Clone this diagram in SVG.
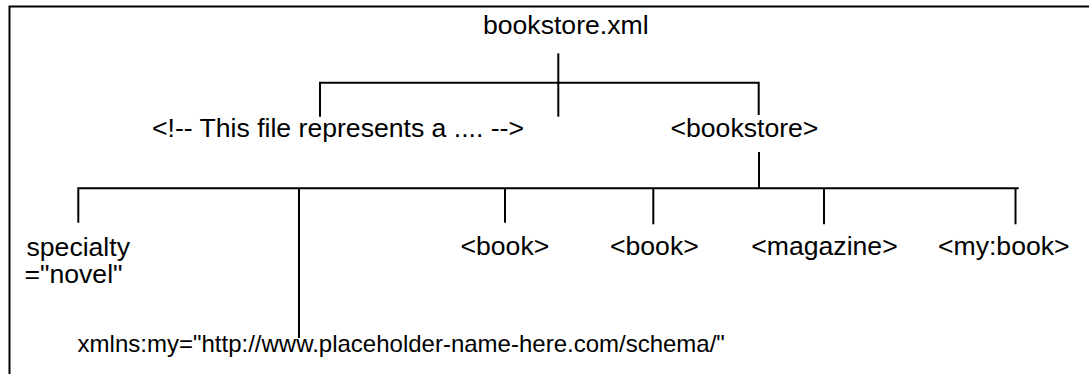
<svg xmlns="http://www.w3.org/2000/svg" width="1089" height="374" viewBox="0 0 1089 374">
<style>
.t{font-family:"Liberation Sans",Arial,sans-serif;font-size:26.6px;fill:#000}
.s{font-size:24px}
.c{stroke:#000;stroke-width:2;fill:none}
</style>
<rect x="0" y="0" width="1089" height="374" fill="#fff"/>
<g id="frame"><path class="c" d="M9.5,374 V6.5 H1089"/></g>
<g id="connectors">
<path class="c" d="M558.3,53.3 V116.7"/>
<path class="c" d="M320,116.7 V82.7 H758.7 V115"/>
<path class="c" d="M759,152 V188.3"/>
<path class="c" d="M78.3,222.7 V188.3 H1018.7"/>
<path class="c" d="M299,188.3 V338"/>
<path class="c" d="M505,188.3 V222.7"/>
<path class="c" d="M653.3,188.3 V224.3"/>
<path class="c" d="M824,188.3 V224.3"/>
<path class="c" d="M1015.5,188.3 V224.3"/>
</g>
<g id="root"><text class="t" x="483" y="34">bookstore.xml</text></g>
<g id="comment"><text class="t" x="152" y="137">&lt;!-- This file represents a .... --&gt;</text></g>
<g id="bookstore"><text class="t" x="670.5" y="137">&lt;bookstore&gt;</text></g>
<g id="specialty"><text class="t" x="26.5" y="256">specialty</text><text class="t" x="24.5" y="283">="novel"</text></g>
<g id="xmlns"><text class="t s" x="77.6" y="352">xmlns:my="http://www.placeholder-name-here.com/schema/"</text></g>
<g id="book1"><text class="t" x="460.5" y="255">&lt;book&gt;</text></g>
<g id="book2"><text class="t" x="610" y="255">&lt;book&gt;</text></g>
<g id="magazine"><text class="t" x="751.3" y="255">&lt;magazine&gt;</text></g>
<g id="mybook"><text class="t" x="938" y="255">&lt;my:book&gt;</text></g>
</svg>
